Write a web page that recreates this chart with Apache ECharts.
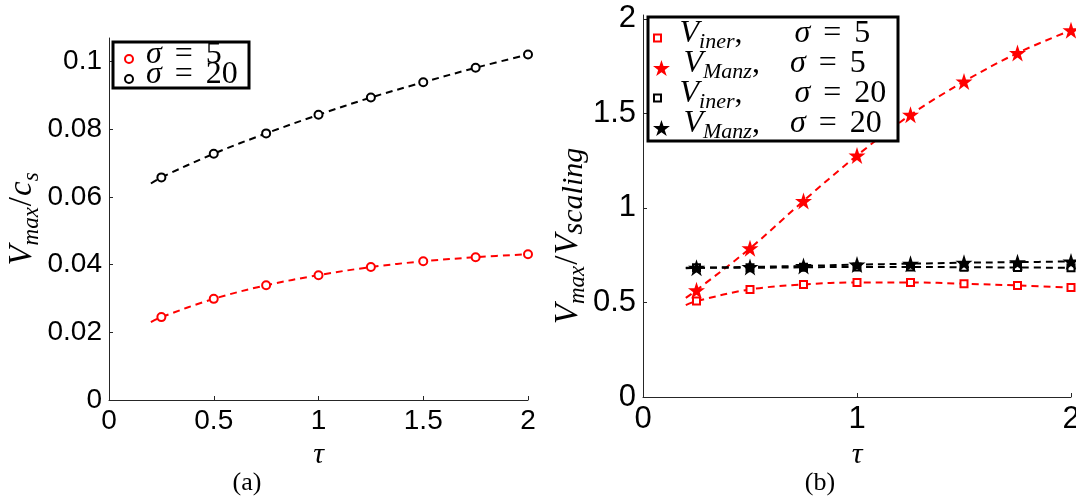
<!DOCTYPE html>
<html>
<head>
<meta charset="utf-8">
<script src="https://cdn.jsdelivr.net/npm/echarts@6/dist/echarts.min.js"></script>
<style>
html,body{margin:0;padding:0;background:#fff}
#main{width:1076px;height:501px}
</style>
</head>
<body>
<div id="main"></div>
<script>
// tau values of the markers, the fitted curves start a bit earlier
var tau = [0.25, 0.5, 0.75, 1, 1.25, 1.5, 1.75, 2];
var fitStartTau = 0.2;

// (a) Vmax / cs
var csSigma5 = [0.0245, 0.0299, 0.0339, 0.0369, 0.0393, 0.0410, 0.0422, 0.0431];
var csSigma20 = [0.0658, 0.0728, 0.0788, 0.0843, 0.0894, 0.0939, 0.0982, 0.1021];
var csSigma5Start = 0.023;
var csSigma20Start = 0.064;

// (b) Vmax / Vscaling
var inerSigma5 = [0.507, 0.569, 0.595, 0.606, 0.606, 0.599, 0.590, 0.579];
var manzSigma5 = [0.565, 0.786, 1.037, 1.277, 1.492, 1.668, 1.819, 1.939];
var inerSigma20 = [0.683, 0.683, 0.686, 0.688, 0.688, 0.686, 0.685, 0.683];
var manzSigma20 = [0.683, 0.688, 0.693, 0.700, 0.705, 0.710, 0.713, 0.717];
var inerSigma5Start = 0.486;
var manzSigma5Start = 0.524;
var inerSigma20Start = 0.683;
var manzSigma20Start = 0.681;

// ticks
var xTicksA = [0, 0.5, 1, 1.5, 2];
var yTicksA = [0, 0.02, 0.04, 0.06, 0.08, 0.1];
var xTicksB = [0, 1, 2];
var yTicksB = [0, 0.5, 1, 1.5, 2];

// legend texts
var sigmasA = [5, 20];
var subsB = ['iner', 'Manz', 'iner', 'Manz'];
var sigmasB = [5, 5, 20, 20];
var namesA = ['sigma5', 'sigma20'];
var namesB = ['iner5', 'manz5', 'iner20', 'manz20'];

var SERIF = '"Liberation Serif", "DejaVu Serif", serif';
var SANS = '"Liberation Sans", Arial, sans-serif';
var STAR = 'path://M50,2 L61.8,37.6 L99.3,37.6 L69,59.7 L80.6,95.3 L50,73.3 L19.4,95.3 L31,59.7 L0.7,37.6 L38.2,37.6 Z';
var SQUARE = 'path://M0,0 L10,0 L10,10 L0,10 Z';

function pairs(xs, ys) {
    return xs.map(function (x, i) { return [x, ys[i]]; });
}
function fitPairs(start, ys) {
    return [[fitStartTau, start]].concat(pairs(tau, ys));
}

function fitLine(name, idx, color, start, ys) {
    return {
        name: name + '_fit', type: 'line', xAxisIndex: idx, yAxisIndex: idx,
        data: fitPairs(start, ys), smooth: 0.35, symbol: 'none', silent: true,
        lineStyle: { color: color, width: 2, type: [7, 5] }, z: 2
    };
}
function markers(name, idx, color, symbol, size, ys, empty) {
    return {
        name: name, type: 'scatter', xAxisIndex: idx, yAxisIndex: idx,
        data: pairs(tau, ys), symbol: symbol, symbolSize: size,
        itemStyle: empty ? { color: color, borderColor: color, borderWidth: 2.5, opacity: 1 } : { color: color, opacity: 1 },
        z: 3
    };
}

function axisBase(ticks, fontSize) {
    return {
        axisLine: { show: true, onZero: false, lineStyle: { color: '#262626', width: 1 } },
        axisTick: { show: true, inside: true, length: 4, customValues: ticks, lineStyle: { color: '#262626' } },
        axisLabel: { customValues: ticks, color: '#000', fontFamily: SANS, fontSize: fontSize, margin: 7 },
        splitLine: { show: false }
    };
}

var mathRich = {
    v: { fontFamily: SERIF, fontStyle: 'italic', fontSize: 33, color: '#000', verticalAlign: 'bottom', padding: [0, 0, 4, 0] },
    r: { fontFamily: SERIF, fontSize: 33, color: '#000', verticalAlign: 'bottom', padding: [0, 1, 4, 1] },
    s: { fontFamily: SERIF, fontStyle: 'italic', fontSize: 23, color: '#000', verticalAlign: 'bottom' },
    s2: { fontFamily: SERIF, fontStyle: 'italic', fontSize: 30, color: '#000', verticalAlign: 'bottom' }
};

var xA = echarts.util.merge(axisBase(xTicksA, 28), {
    type: 'value', gridIndex: 0, min: 0, max: 2, interval: 0.5,
    name: 'τ', nameLocation: 'middle', nameGap: 26,
    nameTextStyle: { fontFamily: SERIF, fontStyle: 'italic', fontSize: 30, color: '#000' }
}, true);
var yA = echarts.util.merge(axisBase(yTicksA, 28), {
    type: 'value', gridIndex: 0, min: 0, max: 0.107, interval: 0.02,
    name: '{v|V}{s|max}{r|/}{v|c}{s|s}', nameLocation: 'middle', nameGap: 66, nameRotate: 90,
    nameTextStyle: { rich: mathRich }
}, true);
var xB = echarts.util.merge(axisBase(xTicksB, 31), {
    type: 'value', gridIndex: 1, min: 0, max: 2, interval: 1,
    name: 'τ', nameLocation: 'middle', nameGap: 26,
    nameTextStyle: { fontFamily: SERIF, fontStyle: 'italic', fontSize: 30, color: '#000' }
}, true);
var yB = echarts.util.merge(axisBase(yTicksB, 31), {
    type: 'value', gridIndex: 1, min: 0, max: 2.02, interval: 0.5,
    name: '{v|V}{s|max}{r|/}{v|V}{s2|scaling}', nameLocation: 'middle', nameGap: 52, nameRotate: 90,
    nameTextStyle: { rich: mathRich, padding: [0, 60, 0, 0] }
}, true);

function legendStyles(size) {
    function st(extra) {
        var o = { fontFamily: SERIF, fontSize: size, color: '#000', verticalAlign: 'bottom', padding: [0, 0, 3, 0], lineHeight: 30 };
        for (var k in extra) o[k] = extra[k];
        return o;
    }
    return {
        v: st({ fontStyle: 'italic' }),
        g: st({ fontStyle: 'italic' }),
        r: st({}),
        e: st({ padding: [0, 13, 3, 13] }),
        ci: st({ width: 60 }),
        cm: st({ width: 38 }),
        s: { fontFamily: SERIF, fontStyle: 'italic', fontSize: 22, color: '#000', verticalAlign: 'bottom', lineHeight: 30 }
    };
}

var legends = [];
namesA.forEach(function (name, i) {
    legends.push({
        orient: 'vertical', left: 124, top: 39 + i * 20, padding: 0,
        itemWidth: 24, itemHeight: 8, z: 10, selectedMode: false,
        data: [name],
        textStyle: { lineHeight: 30, rich: legendStyles(32) },
        formatter: function () {
            return '{g|σ}{e|=}{r|' + sigmasA[i] + '}';
        }
    });
});
namesB.forEach(function (name, i) {
    var isStar = name.indexOf('manz') === 0;
    var color = i < 2 ? '#ff0000' : '#000000';
    legends.push({
        orient: 'vertical', left: 653, top: 18 + i * 30, padding: 0,
        itemWidth: 34, itemHeight: isStar ? 16 : 7, z: 10, selectedMode: false,
        data: [isStar ? { name: name, icon: STAR } :
            { name: name, icon: SQUARE, itemStyle: { color: '#fff', borderColor: color, borderWidth: 2 } }],
        textStyle: { lineHeight: 30, rich: legendStyles(32) },
        formatter: function () {
            return '{v|V}{s|' + subsB[i] + '}{' + (isStar ? 'cm' : 'ci') + '|,}{g|σ}{e|=}{r|' + sigmasB[i] + '}';
        }
    });
});

var chart = echarts.init(document.getElementById('main'));
chart.setOption({
    animation: false,
    backgroundColor: '#fff',
    grid: [
        { left: 109, top: 38, width: 419, height: 362, containLabel: false, outerBoundsMode: 'none' },
        { left: 643, top: 15, width: 428, height: 382, containLabel: false, outerBoundsMode: 'none' }
    ],
    xAxis: [xA, xB],
    yAxis: [yA, yB],
    legend: legends,
    graphic: [
        { type: 'rect', z: 5, shape: { x: 113, y: 42, width: 136, height: 46 },
          style: { fill: '#fff', stroke: '#000', lineWidth: 3 } },
        { type: 'rect', z: 5, shape: { x: 648, y: 17, width: 250, height: 124 },
          style: { fill: '#fff', stroke: '#000', lineWidth: 3 } },
        { type: 'text', x: 247, y: 483, style: { text: '(a)', font: '26px ' + SERIF, fill: '#000', align: 'center', verticalAlign: 'middle' } },
        { type: 'text', x: 820, y: 483, style: { text: '(b)', font: '26px ' + SERIF, fill: '#000', align: 'center', verticalAlign: 'middle' } }
    ],
    series: [
        fitLine('sigma5', 0, '#ff0000', csSigma5Start, csSigma5),
        fitLine('sigma20', 0, '#000000', csSigma20Start, csSigma20),
        markers('sigma5', 0, '#ff0000', 'emptyCircle', 8, csSigma5, true),
        markers('sigma20', 0, '#000000', 'emptyCircle', 8, csSigma20, true),

        fitLine('iner5', 1, '#ff0000', inerSigma5Start, inerSigma5),
        fitLine('manz5', 1, '#ff0000', manzSigma5Start, manzSigma5),
        fitLine('iner20', 1, '#000000', inerSigma20Start, inerSigma20),
        fitLine('manz20', 1, '#000000', manzSigma20Start, manzSigma20),
        markers('iner5', 1, '#ff0000', 'emptyRect', 7, inerSigma5, true),
        markers('manz5', 1, '#ff0000', STAR, 17, manzSigma5, false),
        markers('iner20', 1, '#000000', 'emptyRect', 7, inerSigma20, true),
        markers('manz20', 1, '#000000', STAR, 17, manzSigma20, false)
    ]
});
window.addEventListener('resize', function () {
    chart.resize();
});
</script>
</body>
</html>
